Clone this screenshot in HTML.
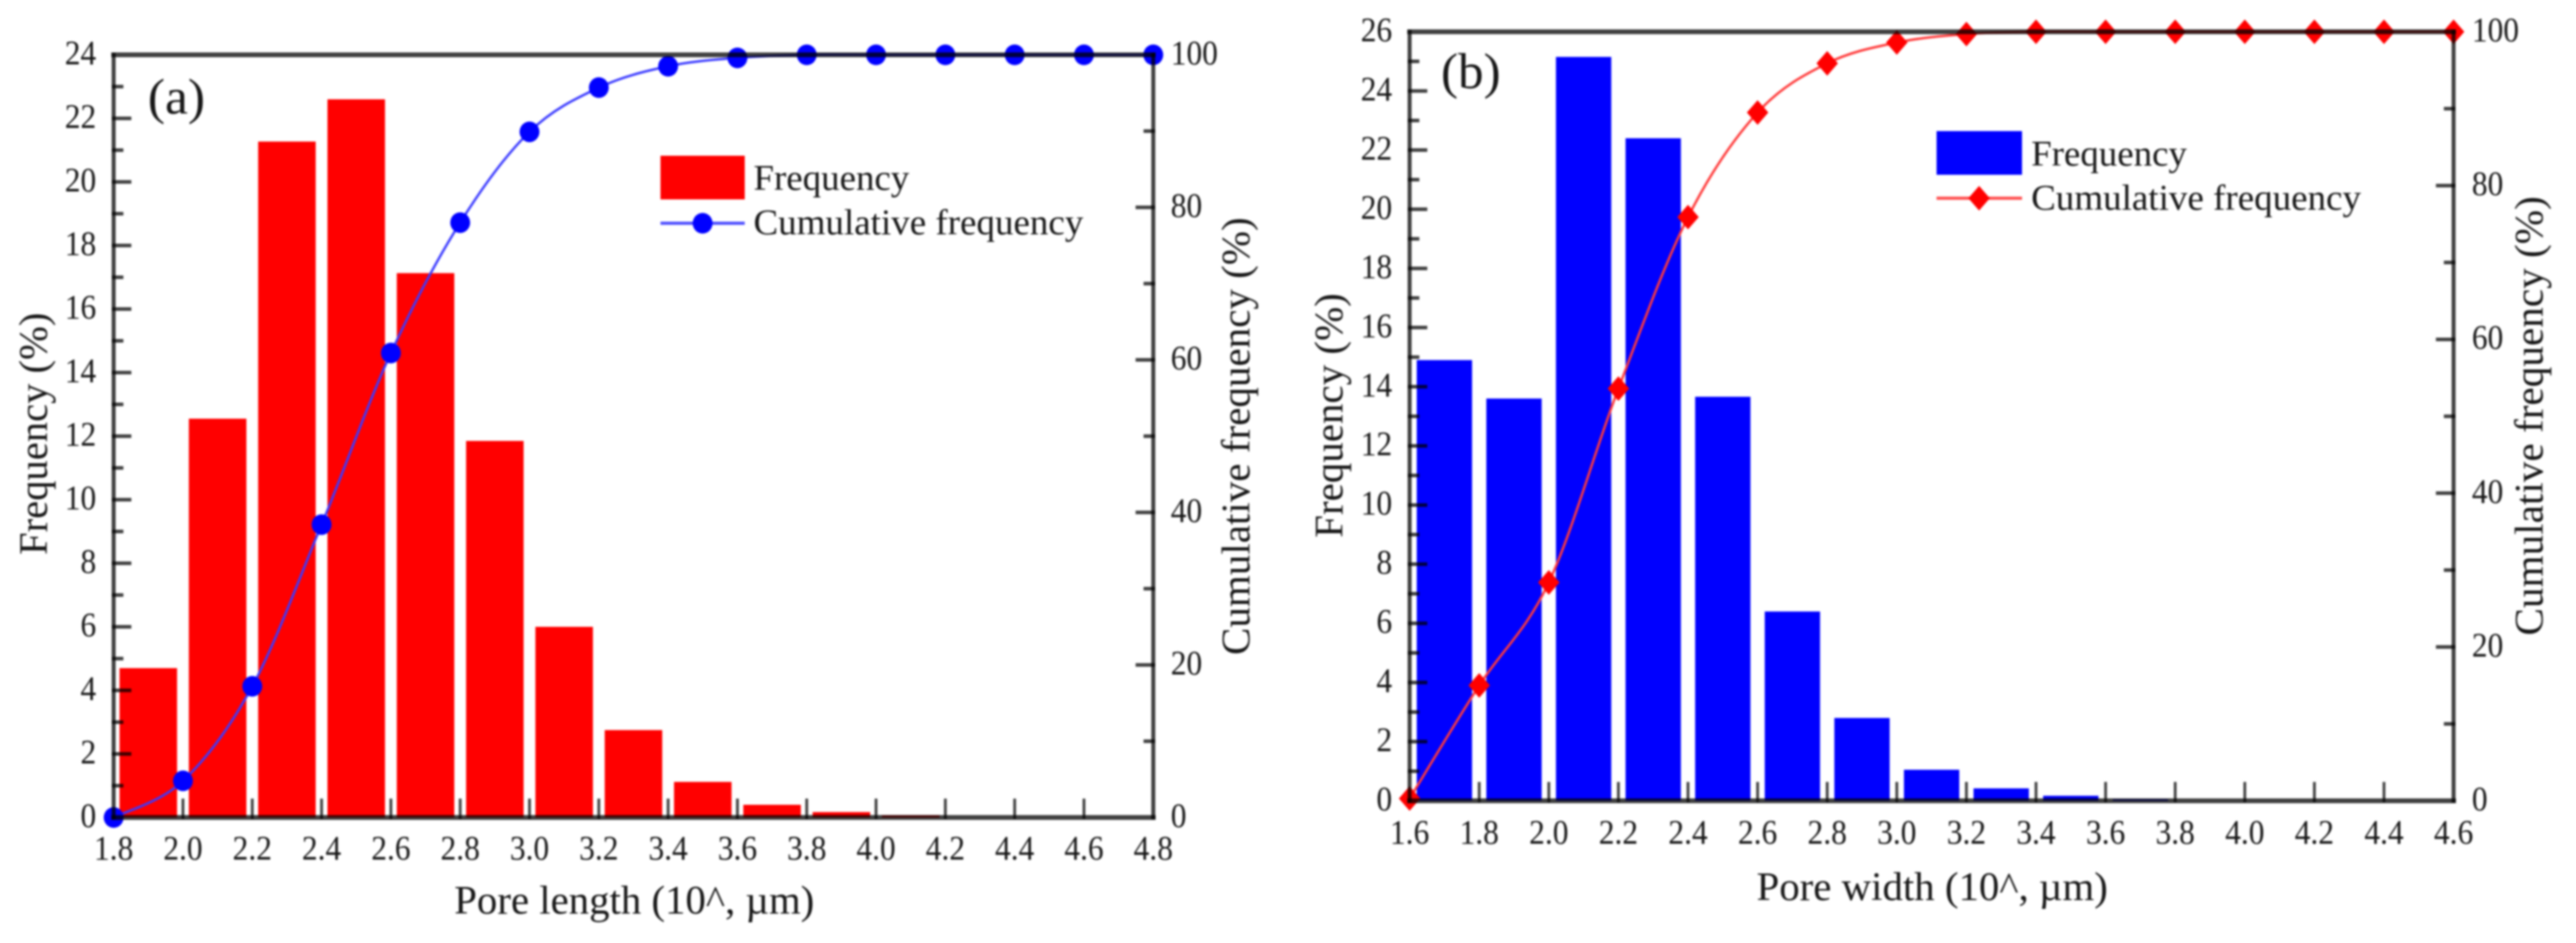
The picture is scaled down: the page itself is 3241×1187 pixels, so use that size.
<!DOCTYPE html>
<html lang="en">
<head>
<meta charset="utf-8">
<title>Pore length and pore width frequency distributions</title>
<style>
  html, body { margin: 0; padding: 0; background: #fff; }
  body { width: 3241px; height: 1187px; overflow: hidden; }
  svg { display: block; filter: blur(1.4px); }
  text { font-family: "Liberation Serif", "Times New Roman", serif; fill: #161616; }
  .tick-label { font-size: 43px; }
  .axis-title { font-size: 51px; text-anchor: middle; }
  .legend-text { font-size: 46px; }
  .panel-label { font-size: 63px; }
  .axis-part { mix-blend-mode: multiply; }
</style>
</head>
<body>
<svg id="chart" xmlns="http://www.w3.org/2000/svg" width="3241" height="1187" viewBox="0 0 3241 1187">
  <rect x="0" y="0" width="3241" height="1187" fill="#ffffff"/>

  <g id="panel-a">
    <g id="marks-a"></g>
    <g id="axes-a"></g>
    <text class="panel-label" x="186" y="143" textLength="72" lengthAdjust="spacingAndGlyphs">(a)</text>
    <text class="axis-title" x="798" y="1150" textLength="453" lengthAdjust="spacingAndGlyphs">Pore length (10^, µm)</text>
    <text class="axis-title" transform="translate(59,546) rotate(-90)" textLength="305" lengthAdjust="spacingAndGlyphs">Frequency (%)</text>
    <text class="axis-title" transform="translate(1572,549) rotate(-90)" textLength="551" lengthAdjust="spacingAndGlyphs">Cumulative frequency (%)</text>
    <g>
      <rect x="831" y="196" width="106" height="55" fill="#ff0000"/>
      <text class="legend-text" x="948" y="239" textLength="196" lengthAdjust="spacingAndGlyphs">Frequency</text>
      <line x1="831" x2="937" y1="281" y2="281" stroke="#5050ff" stroke-width="4"/>
      <ellipse cx="884" cy="281" rx="12.5" ry="13" fill="#0000ff"/>
      <text class="legend-text" x="948" y="295" textLength="415" lengthAdjust="spacingAndGlyphs">Cumulative frequency</text>
    </g>
  </g>

  <g id="panel-b">
    <g id="marks-b"></g>
    <g id="axes-b"></g>
    <text class="panel-label" x="1813" y="111" textLength="75" lengthAdjust="spacingAndGlyphs">(b)</text>
    <text class="axis-title" x="2431" y="1133" textLength="442" lengthAdjust="spacingAndGlyphs">Pore width (10^, µm)</text>
    <text class="axis-title" transform="translate(1689,523) rotate(-90)" textLength="308" lengthAdjust="spacingAndGlyphs">Frequency (%)</text>
    <text class="axis-title" transform="translate(3199,523.5) rotate(-90)" textLength="553" lengthAdjust="spacingAndGlyphs">Cumulative frequency (%)</text>
    <g>
      <rect x="2436.5" y="165" width="107.5" height="55" fill="#0000ff"/>
      <text class="legend-text" x="2555.5" y="208.5" textLength="196" lengthAdjust="spacingAndGlyphs">Frequency</text>
      <line x1="2436.5" x2="2544" y1="249.5" y2="249.5" stroke="#ff5050" stroke-width="4"/>
      <polygon points="2490,234 2503.5,249.5 2490,265 2476.5,249.5" fill="#ff0000"/>
      <text class="legend-text" x="2555.5" y="264" textLength="415" lengthAdjust="spacingAndGlyphs">Cumulative frequency</text>
    </g>
  </g>
</svg>

<script>
// ---- Panel (a): pore length ----
var xTicksA = ['1.8','2.0','2.2','2.4','2.6','2.8','3.0','3.2','3.4','3.6','3.8','4.0','4.2','4.4','4.6','4.8'];
var yTicksA = [0,2,4,6,8,10,12,14,16,18,20,22,24];
var rightTicksA = [0,20,40,60,80,100];
var binCentersA = [1.9,2.1,2.3,2.5,2.7,2.9,3.1,3.3,3.5,3.7,3.9,4.1];
var frequencyA = [4.7,12.55,21.27,22.6,17.13,11.85,6.0,2.75,1.12,0.4,0.17,0.07];
var cumulativeXA = [1.8,2.0,2.2,2.4,2.6,2.8,3.0,3.2,3.4,3.6,3.8,4.0,4.2,4.4,4.6,4.8];
var cumulativeA = [0,4.8,17.2,38.4,60.9,78,89.9,95.7,98.5,99.6,100,100,100,100,100,100];

// ---- Panel (b): pore width ----
var xTicksB = ['1.6','1.8','2.0','2.2','2.4','2.6','2.8','3.0','3.2','3.4','3.6','3.8','4.0','4.2','4.4','4.6'];
var yTicksB = [0,2,4,6,8,10,12,14,16,18,20,22,24,26];
var rightTicksB = [0,20,40,60,80,100];
var binCentersB = [1.7,1.9,2.1,2.3,2.5,2.7,2.9,3.1,3.3,3.5,3.7];
var frequencyB = [14.9,13.6,25.15,22.4,13.66,6.4,2.8,1.05,0.42,0.17,0.05];
var cumulativeXB = [1.6,1.8,2.0,2.2,2.4,2.6,2.8,3.0,3.2,3.4,3.6,3.8,4.0,4.2,4.4,4.6];
var cumulativeB = [0.3,15,28.4,53.6,75.9,89.5,95.9,98.6,99.7,100,100,100,100,100,100,100];

var NS = 'http://www.w3.org/2000/svg';
var AXIS_COLOR = '#404040';

function make(parent, tag) {
  var el = document.createElementNS(NS, tag);
  parent.appendChild(el);
  return el;
}

function axisLine(parent, x1, y1, x2, y2, width, cls) {
  var l = make(parent, 'line');
  l.setAttribute('x1', x1);
  l.setAttribute('y1', y1);
  l.setAttribute('x2', x2);
  l.setAttribute('y2', y2);
  l.setAttribute('stroke', AXIS_COLOR);
  l.setAttribute('stroke-width', width);
  l.setAttribute('stroke-linecap', 'square');
  l.setAttribute('class', cls);
  return l;
}

function tickLabel(parent, x, y, str, anchor) {
  var t = make(parent, 'text');
  t.setAttribute('class', 'tick-label');
  t.setAttribute('text-anchor', anchor);
  t.setAttribute('transform', 'translate(' + x + ',' + y + ') scale(0.92,1)');
  t.textContent = str;
  return t;
}

function smoothPath(pts) {
  var d = 'M' + pts[0][0] + ',' + pts[0][1];
  for (var i = 0; i < pts.length - 1; i++) {
    var p0 = pts[Math.max(i - 1, 0)];
    var p1 = pts[i];
    var p2 = pts[i + 1];
    var p3 = pts[Math.min(i + 2, pts.length - 1)];
    var c1x = p1[0] + (p2[0] - p0[0]) / 6;
    var c1y = p1[1] + (p2[1] - p0[1]) / 6;
    var c2x = p2[0] - (p3[0] - p1[0]) / 6;
    var c2y = p2[1] - (p3[1] - p1[1]) / 6;
    d += ' C' + c1x + ',' + c1y + ' ' + c2x + ',' + c2y + ' ' + p2[0] + ',' + p2[1];
  }
  return d;
}

function drawPanel(o) {
  var marks = document.getElementById(o.marksId);
  var axes = document.getElementById(o.axesId);
  var xMin = parseFloat(o.xTicks[0]);
  var xMax = parseFloat(o.xTicks[o.xTicks.length - 1]);
  var yMax = o.yTicks[o.yTicks.length - 1];
  var rMax = o.rightTicks[o.rightTicks.length - 1];

  function sx(v) { return o.left + (v - xMin) / (xMax - xMin) * (o.right - o.left); }
  function sy(v) { return o.bottom - v / yMax * (o.bottom - o.top); }
  function sr(v) { return o.bottom - v / rMax * (o.bottom - o.top); }

  var step = (o.right - o.left) / (o.xTicks.length - 1);
  var barW = step * o.barRatio;

  // bars
  o.binCenters.forEach(function (c, i) {
    var r = make(marks, 'rect');
    
    
    r.setAttribute('x', sx(c) - barW / 2);
    r.setAttribute('y', sy(o.frequency[i]));
    r.setAttribute('width', barW);
    r.setAttribute('height', o.bottom - sy(o.frequency[i]));
    r.setAttribute('fill', o.barColor);
  });

  // cumulative curve
  var pts = o.cumulativeX.map(function (x, i) { return [sx(x), sr(o.cumulative[i])]; });
  var path = make(marks, 'path');
  
  
  path.setAttribute('d', smoothPath(pts));
  path.setAttribute('fill', 'none');
  path.setAttribute('stroke', o.lineColor);
  path.setAttribute('stroke-width', '3');

  // cumulative markers
  pts.forEach(function (p) {
    var m;
    if (o.marker === 'circle') {
      m = make(marks, 'ellipse');
      m.setAttribute('cx', p[0]);
      m.setAttribute('cy', p[1]);
      m.setAttribute('rx', 12.5);
      m.setAttribute('ry', 13);
    } else {
      m = make(marks, 'polygon');
      m.setAttribute('points',
        p[0] + ',' + (p[1] - 15.5) + ' ' + (p[0] + 13.5) + ',' + p[1] + ' ' +
        p[0] + ',' + (p[1] + 15.5) + ' ' + (p[0] - 13.5) + ',' + p[1]);
    }
    
    
    m.setAttribute('fill', o.markerColor);
  });

  // frame
  var frameTop = axisLine(axes, o.left, o.top, o.right, o.top, 6, 'axis-part');
  
  
  var frameBottom = axisLine(axes, o.left, o.bottom, o.right, o.bottom, 6, 'axis-part');
  
  
  var frameLeft = axisLine(axes, o.left, o.top, o.left, o.bottom, 5, 'axis-part');
  
  
  var frameRight = axisLine(axes, o.right, o.top, o.right, o.bottom, 5, 'axis-part');
  
  

  // x ticks
  o.xTicks.forEach(function (lab) {
    var v = parseFloat(lab);
    var x = sx(v);
    if (v > xMin && v < xMax) {
      var tk = axisLine(axes, x, o.bottom, x, o.bottom - 22, 3.5, 'axis-part');
      
      
    }
    var t = tickLabel(axes, x, o.xLabelY, lab, 'middle');
    
    
  });

  // left y ticks with minors midway
  o.yTicks.forEach(function (v, i) {
    var y = sy(v);
    if (i > 0 && i < o.yTicks.length - 1) {
      var tk = axisLine(axes, o.left, y, o.left + 20, y, 4.5, 'axis-part');
      
      
    }
    if (i < o.yTicks.length - 1) {
      var ym = sy((v + o.yTicks[i + 1]) / 2);
      var mn = axisLine(axes, o.left, ym, o.left + 10, ym, 4.5, 'axis-part');
      
      
    }
    var t = tickLabel(axes, o.leftLabelX, y + 12, String(v), 'end');
    
    
  });

  // right y ticks with minors midway
  o.rightTicks.forEach(function (v, i) {
    var y = sr(v);
    if (i > 0 && i < o.rightTicks.length - 1) {
      var tk = axisLine(axes, o.right, y, o.right - 20, y, 4.5, 'axis-part');
      
      
    }
    if (i < o.rightTicks.length - 1) {
      var ym = sr((v + o.rightTicks[i + 1]) / 2);
      var mn = axisLine(axes, o.right, ym, o.right - 10, ym, 4.5, 'axis-part');
      
      
    }
    var t = tickLabel(axes, o.rightLabelX, y + 12, String(v), 'start');
    
    
  });
}

drawPanel({
  marksId: 'marks-a', axesId: 'axes-a',
  left: 143, right: 1451, top: 69, bottom: 1029,
  xLabelY: 1082, leftLabelX: 121, rightLabelX: 1473,
  barRatio: 0.83, barColor: '#ff0000', lineColor: '#3a3aff',
  marker: 'circle', markerColor: '#0000ff',
  xTicks: xTicksA, yTicks: yTicksA, rightTicks: rightTicksA,
  binCenters: binCentersA, frequency: frequencyA,
  cumulativeX: cumulativeXA, cumulative: cumulativeA
});

drawPanel({
  marksId: 'marks-b', axesId: 'axes-b',
  left: 1773.5, right: 3087, top: 40, bottom: 1008,
  xLabelY: 1062, leftLabelX: 1751.5, rightLabelX: 3110,
  barRatio: 0.795, barColor: '#0000ff', lineColor: '#ff3a3a',
  marker: 'diamond', markerColor: '#ff0000',
  xTicks: xTicksB, yTicks: yTicksB, rightTicks: rightTicksB,
  binCenters: binCentersB, frequency: frequencyB,
  cumulativeX: cumulativeXB, cumulative: cumulativeB
});
</script>
</body>
</html>
